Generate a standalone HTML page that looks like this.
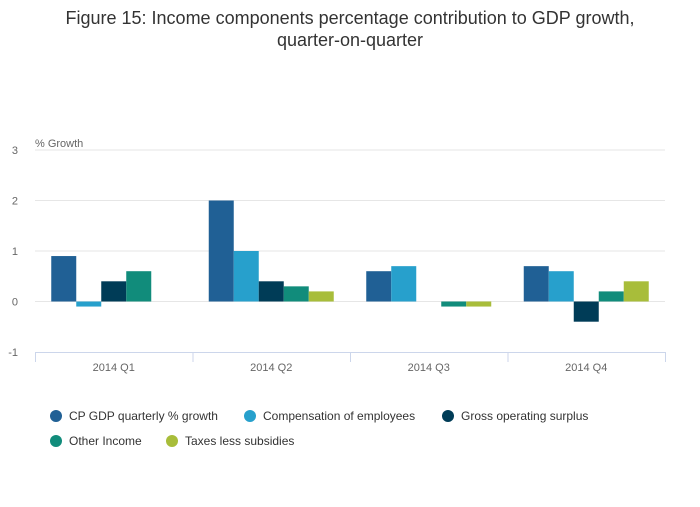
<!DOCTYPE html>
<html><head><meta charset="utf-8"><style>
body{margin:0;background:#fff;font-family:"Liberation Sans",sans-serif;}
svg text{font-family:"Liberation Sans",sans-serif;}
</style></head><body>
<svg id="chart" width="700" height="502" xmlns="http://www.w3.org/2000/svg">
<text x="350" y="24" text-anchor="middle" font-size="18" fill="#333">Figure 15: Income components percentage contribution to GDP growth,</text>
<text x="350" y="46" text-anchor="middle" font-size="18" fill="#333">quarter-on-quarter</text>
<text x="35" y="147" font-size="11" fill="#666">% Growth</text>
<g id="grid"></g><g id="bars"></g><g id="axis"></g><g id="legend"></g>
</svg>
<script>
const categories=["2014 Q1","2014 Q2","2014 Q3","2014 Q4"];
const seriesNames=["CP GDP quarterly % growth","Compensation of employees","Gross operating surplus","Other Income","Taxes less subsidies"];
const s1=[0.9,2.0,0.6,0.7];
const s2=[-0.1,1.0,0.7,0.6];
const s3=[0.4,0.4,0,-0.4];
const s4=[0.6,0.3,-0.1,0.2];
const s5=[0,0.2,-0.1,0.4];
const yTicks=[-1,0,1,2,3];
const colors=["#206095","#27a0cc","#003c57","#118c7b","#a8bd3a"];
const series=[s1,s2,s3,s4,s5];
const NS="http://www.w3.org/2000/svg";
const L=35,R=665,yTop=150,yBot=352,yMin=-1,yMax=3;
const y=v=>yBot-(v-yMin)/(yMax-yMin)*(yBot-yTop);
const catW=(R-L)/categories.length,barW=25;
function mk(t,a,p){const e=document.createElementNS(NS,t);for(const k in a)e.setAttribute(k,a[k]);p.appendChild(e);return e;}
const grid=document.getElementById('grid'),bars=document.getElementById('bars'),axis=document.getElementById('axis'),leg=document.getElementById('legend');
yTicks.forEach(t=>{
 if(t!==yMin){const l=mk('line',{x1:L,x2:R,y1:y(t),y2:y(t),stroke:'#e6e6e6','stroke-width':1},grid);
 
 }
 const tx=mk('text',{x:18,y:y(t)+4,'text-anchor':'end','font-size':11,fill:'#666'},grid);tx.textContent=t;
 
 
});
categories.forEach((c,i)=>{
 const cx=L+catW*(i+0.5),start=cx-barW*series.length/2;
 series.forEach((s,j)=>{
  const v=s[i];if(v===0)return;
  const r=mk('rect',{x:start+j*barW,y:Math.min(y(v),y(0)),width:barW,height:Math.abs(y(v)-y(0)),fill:colors[j]},bars);
  
  
 });
 const t=mk('text',{x:cx,y:yBot+19,'text-anchor':'middle','font-size':11,fill:'#666'},axis);t.textContent=c;
 
 
});
const al=mk('line',{x1:L,x2:R,y1:yBot+0.5,y2:yBot+0.5,stroke:'#ccd6eb'},axis);


for(let i=0;i<=categories.length;i++){const tk=mk('line',{x1:L+catW*i+0.5,x2:L+catW*i+0.5,y1:yBot,y2:yBot+10,stroke:'#ccd6eb'},axis);
 
 }
const lpos=[[50,416],[244,416],[442,416],[50,441],[166,441]];
seriesNames.forEach((n,j)=>{
 const g=mk('g',{},leg);
 
 
 mk('circle',{cx:lpos[j][0]+6,cy:lpos[j][1],r:6,fill:colors[j]},g);
 const t=mk('text',{x:lpos[j][0]+19,y:lpos[j][1]+4,'font-size':12,fill:'#333'},g);t.textContent=n;
});
</script>
</body></html>
